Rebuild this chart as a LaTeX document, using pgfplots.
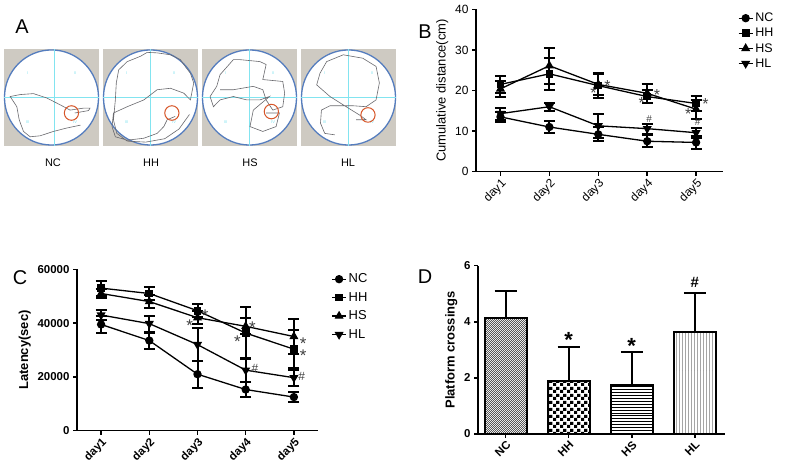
\documentclass[border=0pt]{standalone}
\usepackage{fontspec}
\setmainfont{Liberation Sans}
\usepackage{pgfplots}
\pgfplotsset{compat=1.18}
\usetikzlibrary{patterns}
\definecolor{poolgray}{RGB}{206,202,194}
\definecolor{poolblue}{RGB}{85,125,190}
\definecolor{poolcyan}{RGB}{130,228,240}
\definecolor{pathgray}{RGB}{105,105,110}
\definecolor{platred}{RGB}{215,85,40}
\pgfdeclarepatternformonly{bigchecker}{\pgfpointorigin}{\pgfpoint{7bp}{7bp}}{\pgfpoint{7bp}{7bp}}{%
  \pgfpathrectangle{\pgfpointorigin}{\pgfpoint{3.5bp}{3.5bp}}%
  \pgfpathrectangle{\pgfpoint{3.5bp}{3.5bp}}{\pgfpoint{3.5bp}{3.5bp}}%
  \pgfusepath{fill}}
\pgfdeclarepatternformonly{finemesh}{\pgfpointorigin}{\pgfpoint{2.4bp}{2.4bp}}{\pgfpoint{2.4bp}{2.4bp}}{%
  \pgfpathrectangle{\pgfpointorigin}{\pgfpoint{1.2bp}{1.2bp}}%
  \pgfpathrectangle{\pgfpoint{1.2bp}{1.2bp}}{\pgfpoint{1.2bp}{1.2bp}}%
  \pgfusepath{fill}}
\pgfplotsset{
  pool/.style={anchor=south west, scale only axis, width=95bp, height=97bp,
    xmin=-1, xmax=1, ymin=-1, ymax=1, axis lines=none, ticks=none, clip=false},
  gp/.style={anchor=south west, scale only axis,
    axis x line*=bottom, axis y line*=left,
    axis line style={line width=1.5bp, -},
    every tick/.style={line width=1.5bp, black},
    major tick length=4bp, tick align=outside,
    /pgf/number format/assume math mode=true},
  ser/.style={black, line width=1.3bp, error bars/y dir=both, error bars/y explicit,
    error bars/error bar style={line width=2bp, black},
    error bars/error mark options={rotate=90, mark size=5.5bp, line width=2bp, black}},
  lg/.style={legend image code/.code={\draw[##1, line width=1.3bp, mark repeat=2, mark phase=2] plot coordinates {(0bp,0bp) (7bp,0bp) (14bp,0bp)};}},
  barerr/.style={ybar, bar width=42bp, bar shift=0pt, draw=black, line width=2bp,
    error bars/y dir=plus, error bars/y explicit, error bars/error bar style={line width=2bp, black},
    error bars/error mark options={rotate=90, mark size=11bp, line width=2bp, black}}
}
\begin{document}
\begin{tikzpicture}[x=1bp,y=1bp]
\useasboundingbox (0,0) rectangle (787,470);
% ---------------- Panel A ----------------
\node[anchor=center, font=\fontsize{20}{20}\selectfont] at (22,443) {A};
% NC pool
\begin{axis}[pool, at={(4bp,324bp)}]
\fill[poolgray] (axis cs:-1,-1) rectangle (axis cs:1,1);
\draw[poolblue, line width=1.3bp, fill=white] (axis cs:0,0) ellipse [x radius=0.99, y radius=0.98];
\addplot[poolcyan, line width=0.5bp] coordinates {(0.06,-1) (0.06,1)};
\addplot[poolcyan, line width=0.5bp] coordinates {(-1,0) (1,0)};
\node[poolcyan, font=\fontsize{4}{4}\selectfont] at (axis cs:-0.5,0.5) {I};
\node[poolcyan, font=\fontsize{4}{4}\selectfont] at (axis cs:0.5,0.5) {II};
\node[poolcyan, font=\fontsize{4}{4}\selectfont] at (axis cs:-0.5,-0.5) {III};
\node[poolcyan, font=\fontsize{4}{4}\selectfont] at (axis cs:0.5,-0.5) {IV};
\addplot[pathgray, line width=0.6bp] coordinates {(0.61,-0.57) (0.32,-0.63) (0.04,-0.70) (-0.24,-0.79) (-0.45,-0.81) (-0.59,-0.70) (-0.68,-0.46) (-0.73,-0.19) (-0.87,0.02) (-0.66,0.06) (-0.38,0.08) (-0.10,-0.01) (0.18,-0.15) (0.39,-0.26) (0.67,-0.22) (0.81,-0.22) (0.78,-0.27) (0.49,-0.32)};
\draw[platred, line width=1bp] (axis cs:0.42,-0.32) ellipse [x radius=0.15, y radius=0.15];
\end{axis}
% HH pool
\begin{axis}[pool, at={(103bp,324bp)}]
\fill[poolgray] (axis cs:-1,-1) rectangle (axis cs:1,1);
\draw[poolblue, line width=1.3bp, fill=white] (axis cs:0,0) ellipse [x radius=0.99, y radius=0.98];
\addplot[poolcyan, line width=0.5bp] coordinates {(0.0,-1) (0.0,1)};
\addplot[poolcyan, line width=0.5bp] coordinates {(-1,0) (1,0)};
\node[poolcyan, font=\fontsize{4}{4}\selectfont] at (axis cs:-0.5,0.5) {I};
\node[poolcyan, font=\fontsize{4}{4}\selectfont] at (axis cs:0.5,0.5) {II};
\node[poolcyan, font=\fontsize{4}{4}\selectfont] at (axis cs:-0.5,-0.5) {III};
\node[poolcyan, font=\fontsize{4}{4}\selectfont] at (axis cs:0.5,-0.5) {IV};
\addplot[pathgray, line width=0.6bp] coordinates {(0.52,-0.39) (0.35,-0.46) (0.28,-0.60) (0.14,-0.74) (-0.14,-0.84) (-0.49,-0.88) (-0.74,-0.81) (-0.81,-0.60) (-0.78,-0.32) (-0.49,-0.19) (-0.14,-0.05) (0.14,0.16) (0.42,0.19) (0.70,0.09) (0.84,-0.05) (0.91,0.30) (0.84,0.50) (0.73,0.64) (0.63,0.78) (0.42,0.88) (0.14,0.92) (-0.07,0.93) (-0.21,0.85) (-0.49,0.74) (-0.67,0.57) (-0.72,0.30) (-0.74,-0.05) (-0.78,-0.46) (-0.71,-0.74) (-0.49,-0.90) (-0.1,-0.92) (0.3,-0.85) (0.6,-0.65) (0.82,-0.35)};
\draw[platred, line width=1bp] (axis cs:0.45,-0.32) ellipse [x radius=0.15, y radius=0.15];
\end{axis}
% HS pool
\begin{axis}[pool, at={(202bp,324bp)}]
\fill[poolgray] (axis cs:-1,-1) rectangle (axis cs:1,1);
\draw[poolblue, line width=1.3bp, fill=white] (axis cs:0,0) ellipse [x radius=0.99, y radius=0.98];
\addplot[poolcyan, line width=0.5bp] coordinates {(0.0,-1) (0.0,1)};
\addplot[poolcyan, line width=0.5bp] coordinates {(-1,0) (1,0)};
\node[poolcyan, font=\fontsize{4}{4}\selectfont] at (axis cs:-0.5,0.5) {I};
\node[poolcyan, font=\fontsize{4}{4}\selectfont] at (axis cs:0.5,0.5) {II};
\node[poolcyan, font=\fontsize{4}{4}\selectfont] at (axis cs:-0.5,-0.5) {III};
\node[poolcyan, font=\fontsize{4}{4}\selectfont] at (axis cs:0.5,-0.5) {IV};
\addplot[pathgray, line width=0.6bp] coordinates {(0.35,-0.32) (0.63,-0.32) (0.56,-0.60) (0.28,-0.70) (0.01,-0.60) (0.08,-0.26) (0.42,0.02) (0.22,-0.05) (-0.06,-0.05) (-0.34,0.02) (-0.62,-0.05) (-0.76,-0.19) (-0.83,0.02) (-0.69,0.23) (-0.62,0.47) (-0.34,0.78) (-0.20,0.78) (0.22,0.74) (0.35,0.68) (0.28,0.37) (0.70,0.33) (0.74,0.09) (0.70,-0.19) (0.49,-0.26) (0.35,-0.05) (0.28,0.16) (0.08,0.23) (-0.34,0.16) (-0.62,0.16)};
\draw[platred, line width=1bp] (axis cs:0.46,-0.29) ellipse [x radius=0.15, y radius=0.15];
\end{axis}
% HL pool
\begin{axis}[pool, at={(301bp,324bp)}]
\fill[poolgray] (axis cs:-1,-1) rectangle (axis cs:1,1);
\draw[poolblue, line width=1.3bp, fill=white] (axis cs:0,0) ellipse [x radius=0.99, y radius=0.98];
\addplot[poolcyan, line width=0.5bp] coordinates {(0.0,-1) (0.0,1)};
\addplot[poolcyan, line width=0.5bp] coordinates {(-1,0) (1,0)};
\node[poolcyan, font=\fontsize{4}{4}\selectfont] at (axis cs:-0.5,0.5) {I};
\node[poolcyan, font=\fontsize{4}{4}\selectfont] at (axis cs:0.5,0.5) {II};
\node[poolcyan, font=\fontsize{4}{4}\selectfont] at (axis cs:-0.5,-0.5) {III};
\node[poolcyan, font=\fontsize{4}{4}\selectfont] at (axis cs:0.5,-0.5) {IV};
\addplot[pathgray, line width=0.6bp] coordinates {(-0.29,-0.77) (-0.50,-0.74) (-0.59,-0.53) (-0.57,-0.26) (-0.39,-0.17) (0.09,-0.17) (0.37,-0.19) (0.58,-0.05) (0.65,0.30) (0.58,0.64) (0.30,0.81) (-0.11,0.88) (-0.46,0.74) (-0.60,0.50) (-0.67,0.26) (-0.39,0.02) (-0.05,-0.19) (0.23,-0.36) (0.37,-0.46) (0.16,-0.46)};
\draw[platred, line width=1bp] (axis cs:0.41,-0.36) ellipse [x radius=0.15, y radius=0.15];
\end{axis}
\node[font=\fontsize{11}{11}\selectfont] at (53,307) {NC};
\node[font=\fontsize{11}{11}\selectfont] at (151,307) {HH};
\node[font=\fontsize{11}{11}\selectfont] at (250,307) {HS};
\node[font=\fontsize{11}{11}\selectfont] at (348,307) {HL};
% ---------------- Panel B ----------------
\node[anchor=center, font=\fontsize{20}{20}\selectfont] at (425,438) {B};
\begin{axis}[gp, lg, at={(476bp,298.3bp)}, width=247bp, height=162.4bp,
  xmin=0.5, xmax=5.55, ymin=0, ymax=40, ytick={0,10,20,30,40},
  xtick={1,2,3,4,5}, xticklabels={day1,day2,day3,day4,day5},
  tick label style={font=\fontsize{12}{12}\selectfont},
  xticklabel style={rotate=45, anchor=north east, inner sep=1.5bp},
  ylabel={Cumulative distance(cm)}, ylabel style={font=\fontsize{13}{13}\selectfont},
  legend style={at={(1.06,0.99)}, anchor=north west, draw=none, fill=none,
    font=\fontsize{12.5}{12.5}\selectfont, row sep=1bp, inner sep=0pt}, legend cell align=left,
  clip=false]
\addplot[ser, mark=*, mark size=3.5bp] coordinates {(1,13.5) +- (0,1.3) (2,11.0) +- (0,1.5) (3,9.2) +- (0,1.7) (4,7.5) +- (0,1.5) (5,7.2) +- (0,1.5)};
\addlegendentry{NC}
\addplot[ser, mark=square*, mark size=3.2bp] coordinates {(1,21.5) +- (0,2.0) (2,24.1) +- (0,4.0) (3,21.2) +- (0,3.0) (4,18.5) +- (0,1.5) (5,16.8) +- (0,1.8)};
\addlegendentry{HH}
\addplot[ser, mark=triangle*, mark size=4bp] coordinates {(1,20.4) +- (0,2.0) (2,26.1) +- (0,4.4) (3,21.5) +- (0,2.5) (4,19.3) +- (0,2.3) (5,15.4) +- (0,2.3)};
\addlegendentry{HS}
\addplot[ser, mark=triangle*, mark size=4bp, mark options={rotate=180}] coordinates {(1,14.3) +- (0,1.5) (2,16.0) +- (0,1.0) (3,11.3) +- (0,3.0) (4,10.6) +- (0,1.2) (5,9.6) +- (0,1.2)};
\addlegendentry{HL}
\node[font=\fontsize{16}{16}\selectfont, black!75] at (axis cs:2.90,19.4) {*};
\node[font=\fontsize{16}{16}\selectfont, black!75] at (axis cs:3.19,21.1) {*};
\node[font=\fontsize{16}{16}\selectfont, black!75] at (axis cs:3.89,16.8) {*};
\node[font=\fontsize{16}{16}\selectfont, black!75] at (axis cs:4.20,19.0) {*};
\node[font=\fontsize{16}{16}\selectfont, black!75] at (axis cs:4.84,14.1) {*};
\node[font=\fontsize{16}{16}\selectfont, black!75] at (axis cs:5.19,16.7) {*};
\node[font=\fontsize{10}{10}\selectfont, black!75] at (axis cs:4.04,12.9) {\#};
\node[font=\fontsize{10}{10}\selectfont, black!75] at (axis cs:5.03,12.3) {\#};
\end{axis}
% ---------------- Panel C ----------------
\node[anchor=center, font=\fontsize{20}{20}\selectfont] at (20,192) {C};
\begin{axis}[gp, lg, at={(77bp,39.3bp)}, width=241bp, height=161.4bp,
  xmin=0.5, xmax=5.5, ymin=0, ymax=60000, ytick={0,20000,40000,60000},
  yticklabels={0,20000,40000,60000}, scaled y ticks=false,
  xtick={1,2,3,4,5}, xticklabels={day1,day2,day3,day4,day5},
  tick label style={font=\bfseries\fontsize{11.5}{11.5}\selectfont},
  xticklabel style={rotate=45, anchor=north east, inner sep=1.5bp},
  ylabel={Latency(sec)}, ylabel style={font=\bfseries\fontsize{13}{13}\selectfont},
  legend style={at={(1.055,0.985)}, anchor=north west, draw=none, fill=none,
    font=\fontsize{13}{13}\selectfont, row sep=4bp, inner sep=0pt}, legend cell align=left,
  clip=false]
\addplot[ser, mark=*, mark size=3.5bp] coordinates {(1,39500) +- (0,3000) (2,33500) +- (0,3000) (3,21000) +- (0,5000) (4,15300) +- (0,2700) (5,12500) +- (0,2000)};
\addlegendentry{NC}
\addplot[ser, mark=square*, mark size=3.2bp] coordinates {(1,53000) +- (0,2800) (2,51000) +- (0,2500) (3,44600) +- (0,2500) (4,36300) +- (0,9500) (5,30300) +- (0,7000)};
\addlegendentry{HH}
\addplot[ser, mark=triangle*, mark size=4bp] coordinates {(1,51000) +- (0,1500) (2,48000) +- (0,2500) (3,42000) +- (0,2500) (4,38800) +- (0,3000) (5,35000) +- (0,6500)};
\addlegendentry{HS}
\addplot[ser, mark=triangle*, mark size=4bp, mark options={rotate=180}] coordinates {(1,43000) +- (0,2000) (2,39800) +- (0,3000) (3,32000) +- (0,6000) (4,22500) +- (0,4500) (5,19700) +- (0,3000)};
\addlegendentry{HL}
\node[font=\fontsize{17}{17}\selectfont, black!75] at (axis cs:3.16,42700) {*};
\node[font=\fontsize{17}{17}\selectfont, black!75] at (axis cs:2.84,39000) {*};
\node[font=\fontsize{17}{17}\selectfont, black!75] at (axis cs:4.14,38400) {*};
\node[font=\fontsize{17}{17}\selectfont, black!75] at (axis cs:3.83,33200) {*};
\node[font=\fontsize{17}{17}\selectfont, black!75] at (axis cs:5.19,32200) {*};
\node[font=\fontsize{17}{17}\selectfont, black!75] at (axis cs:5.19,27900) {*};
\node[font=\fontsize{12}{12}\selectfont, black!75] at (axis cs:4.19,23200) {\#};
\node[font=\fontsize{12}{12}\selectfont, black!75] at (axis cs:5.16,20100) {\#};
\end{axis}
% ---------------- Panel D ----------------
\node[anchor=center, font=\fontsize{20}{20}\selectfont] at (425,193) {D};
\begin{axis}[gp, at={(478bp,36bp)}, width=247bp, height=168.3bp,
  xmin=-0.44, xmax=3.48, ymin=0, ymax=6, ytick={0,2,4,6},
  xtick={0,1,2,3}, xticklabels={NC,HH,HS,HL},
  tick label style={font=\bfseries\fontsize{11.5}{11.5}\selectfont},
  xticklabel style={rotate=45, anchor=north east, inner sep=1.5bp},
  ylabel={Platform crossings}, ylabel style={font=\bfseries\fontsize{13}{13}\selectfont},
  clip=false]
\addplot[barerr, pattern=finemesh, pattern color=black!65] coordinates {(0,4.12) +- (0,0.98)};
\addplot[barerr, pattern=bigchecker, pattern color=black] coordinates {(1,1.89) +- (0,1.22)};
\addplot[barerr, pattern=horizontal lines, pattern color=black] coordinates {(2,1.75) +- (0,1.16)};
\addplot[barerr, pattern=vertical lines, pattern color=black] coordinates {(3,3.62) +- (0,1.42)};
\node[font=\bfseries\fontsize{22}{22}\selectfont] at (axis cs:1.0,3.35) {*};
\node[font=\bfseries\fontsize{22}{22}\selectfont] at (axis cs:2.0,3.15) {*};
\node[font=\bfseries\fontsize{15}{15}\selectfont] at (axis cs:3.0,5.39) {\#};
\end{axis}
\end{tikzpicture}
\end{document}
